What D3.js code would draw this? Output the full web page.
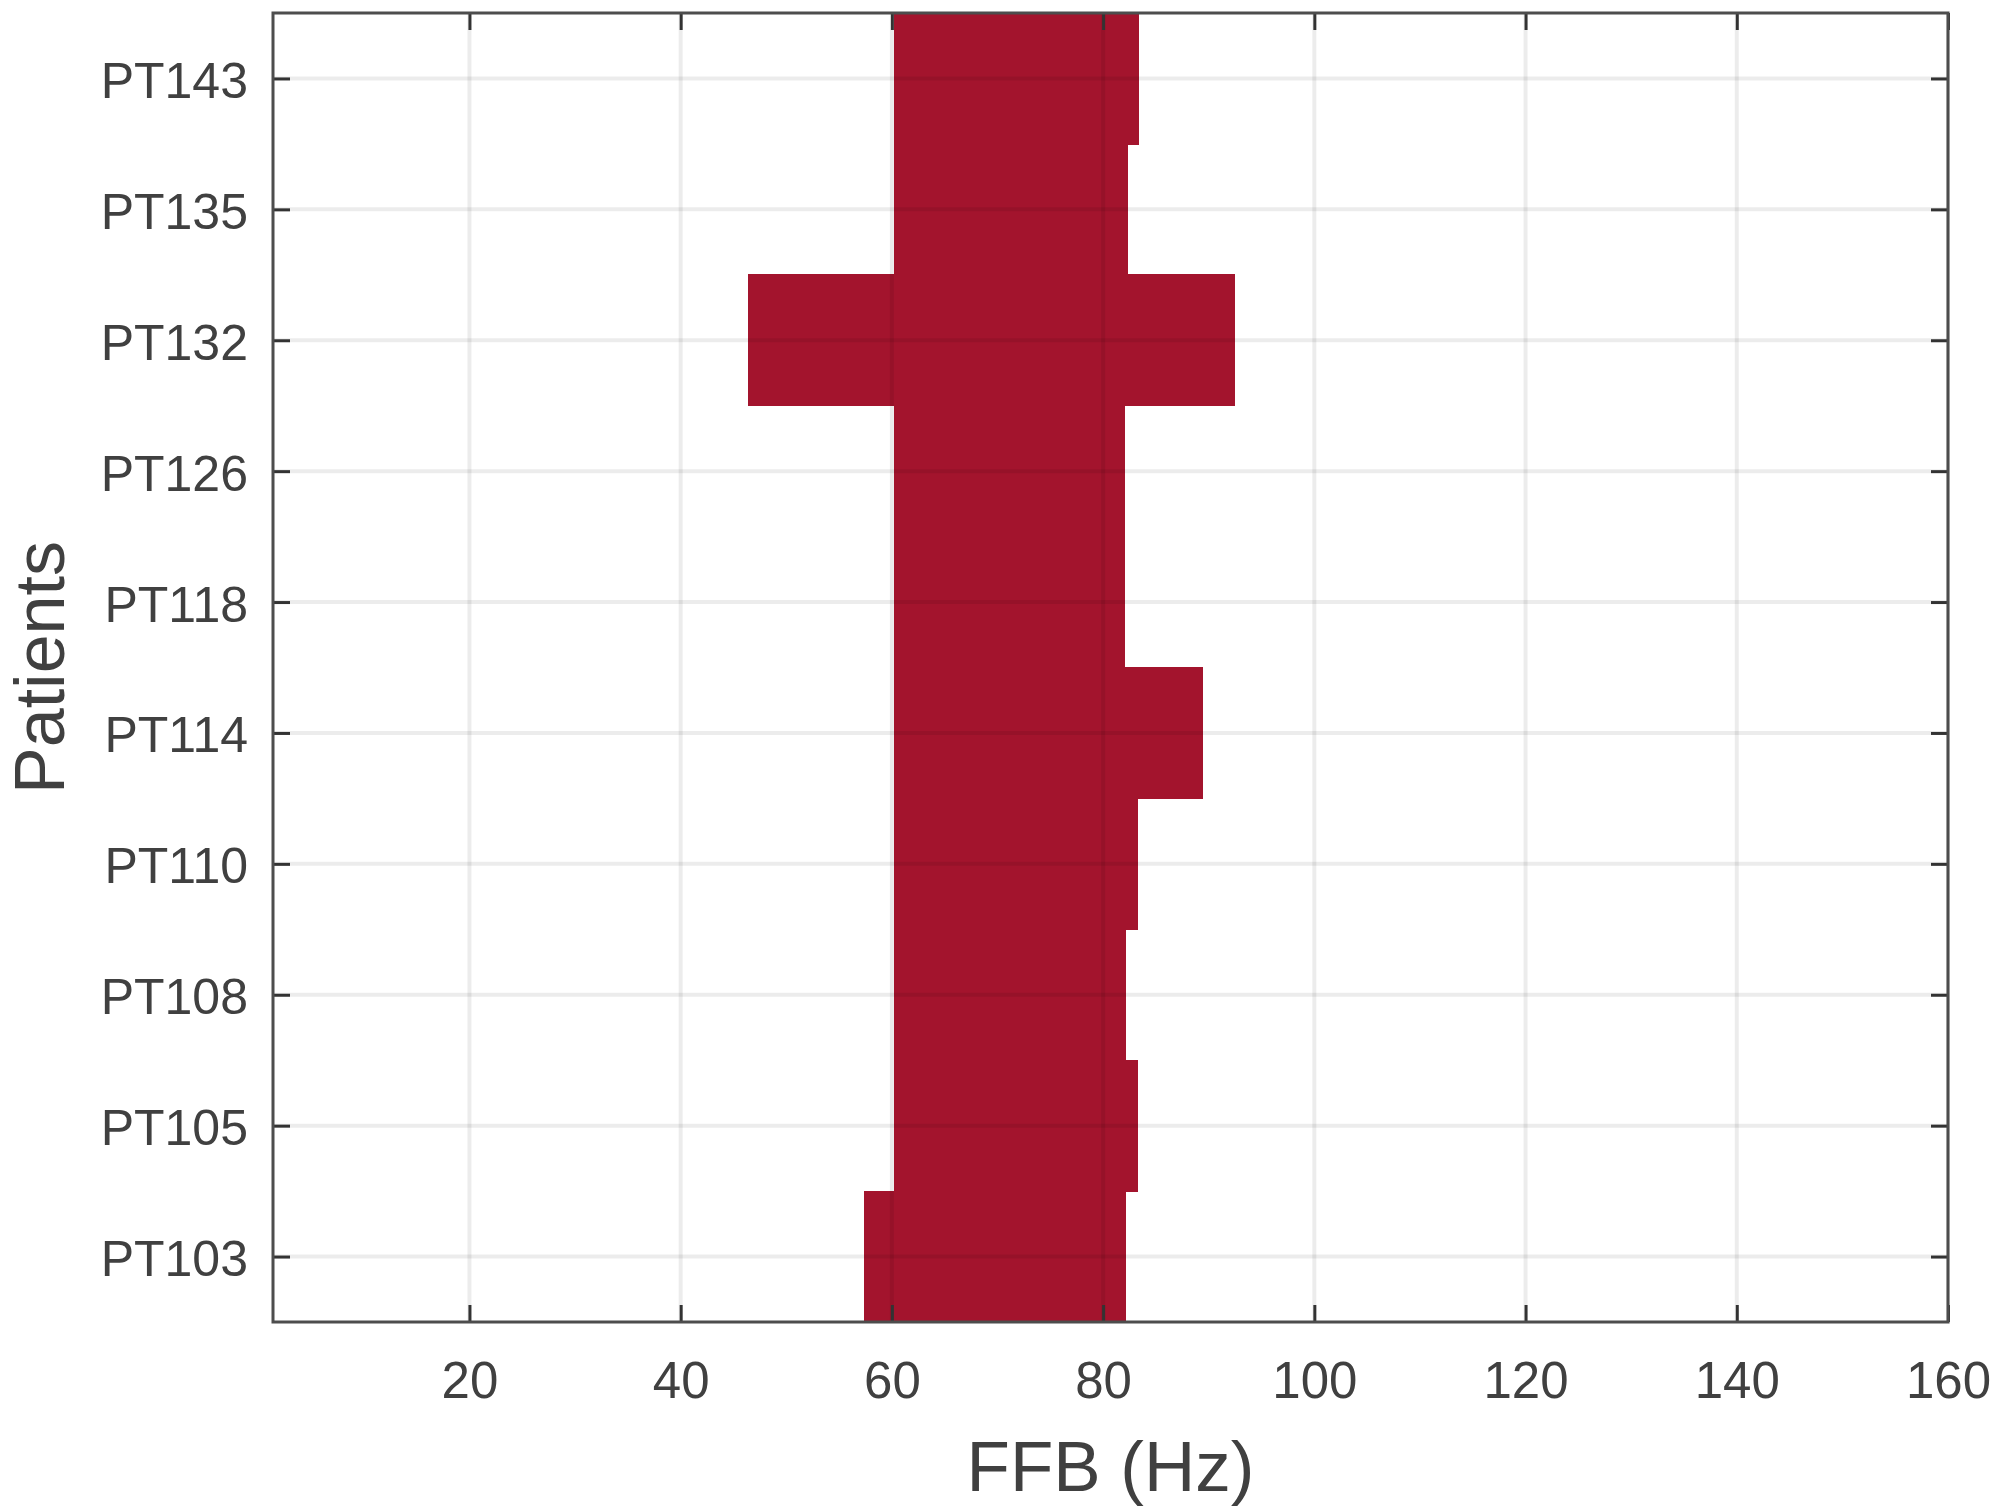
<!DOCTYPE html>
<html>
<head>
<meta charset="utf-8">
<script src="https://cdn.jsdelivr.net/npm/d3@7"></script>
<style>
body { margin: 0; background: #fff; }
text { font-family: "Liberation Sans", Arial, sans-serif; }
</style>
</head>
<body>
<div id="chart"></div>
<script>
// patients listed bottom to top, as in the figure
var patients = ["PT103", "PT105", "PT108", "PT110", "PT114", "PT118", "PT126", "PT132", "PT135", "PT143"];
var ffbLow  = [57.4, 60.2, 60.2, 60.2, 60.2, 60.2, 60.2, 46.4, 60.2, 60.2];
var ffbHigh = [82.2, 83.3, 82.2, 83.3, 89.5, 82.1, 82.1, 92.5, 82.4, 83.4];
var xTicks = [20, 40, 60, 80, 100, 120, 140, 160];
var xRange = [1.4, 160];

var data = patients.map(function(p, i) {
    return {patient: p, low: ffbLow[i], high: ffbHigh[i]};
});

var w = 1995;
var h = 1509;
var plot = {left: 273, right: 1948, top: 13, bottom: 1322};
var tickLen = 17;
var ink = "#404040";

var x = d3.scaleLinear()
    .domain(xRange)
    .range([plot.left, plot.right]);

var y = d3.scaleBand()
    .domain(patients.slice().reverse())
    .range([plot.top, plot.bottom])
    .paddingInner(0)
    .paddingOuter(0);

var svg = d3.select("#chart")
    .append("svg")
    .attr("width", w)
    .attr("height", h);

svg.append("rect")
    .attr("width", w)
    .attr("height", h)
    .attr("fill", "#fff");

// bars: each patient spans its low..high band
svg.append("g")
    .attr("shape-rendering", "crispEdges")
    .selectAll("rect")
    .data(data)
    .enter()
    .append("rect")
    .attr("x", function(d) { return x(d.low); })
    .attr("y", function(d) { return Math.floor(y(d.patient)); })
    .attr("width", function(d) { return x(d.high) - x(d.low); })
    .attr("height", Math.ceil(y.bandwidth()) + 1)
    .attr("fill", "#a3142d");

// grid lines sit on top, faint, so they show through the bars
var grid = svg.append("g")
    .attr("stroke", "#000")
    .attr("stroke-opacity", 0.075)
    .attr("stroke-width", 4);

grid.selectAll(".vgrid")
    .data(xTicks)
    .enter()
    .append("line")
    .attr("x1", function(d) { return x(d); })
    .attr("x2", function(d) { return x(d); })
    .attr("y1", plot.top)
    .attr("y2", plot.bottom);

grid.selectAll(".hgrid")
    .data(patients)
    .enter()
    .append("line")
    .attr("x1", plot.left)
    .attr("x2", plot.right)
    .attr("y1", function(d) { return y(d) + y.bandwidth() / 2; })
    .attr("y2", function(d) { return y(d) + y.bandwidth() / 2; });

var yc = d3.scalePoint()
    .domain(patients.slice().reverse())
    .range([plot.top + y.bandwidth() / 2, plot.bottom - y.bandwidth() / 2]);

var xAxis = d3.axisBottom(x)
    .tickValues(xTicks)
    .tickSize(-tickLen)
    .tickPadding(40)
    .tickSizeOuter(0);

var xTop = d3.axisTop(x)
    .tickValues(xTicks)
    .tickSize(-tickLen)
    .tickFormat("")
    .tickSizeOuter(0);

var yAxis = d3.axisLeft(yc)
    .tickSize(-tickLen)
    .tickPadding(25)
    .tickSizeOuter(0);

var yRight = d3.axisRight(yc)
    .tickSize(-tickLen)
    .tickFormat("")
    .tickSizeOuter(0);

function styleAxis(g) {
    g.select(".domain").remove();
    g.selectAll(".tick line")
        .attr("stroke", "#333")
        .attr("stroke-width", 3);
    g.selectAll(".tick text")
        .attr("fill", ink)
        .style("font-family", "'Liberation Sans', Arial, sans-serif");
}

svg.append("g")
    .attr("transform", "translate(0," + plot.bottom + ")")
    .call(xAxis)
    .call(styleAxis)
    .selectAll(".tick text")
    .attr("font-size", 51)
    .attr("dy", "0.71em");

svg.append("g")
    .attr("transform", "translate(0," + plot.top + ")")
    .call(xTop)
    .call(styleAxis);

svg.append("g")
    .attr("transform", "translate(" + plot.left + ",0)")
    .call(yAxis)
    .call(styleAxis)
    .selectAll(".tick text")
    .attr("font-size", 50)
    .attr("dy", "0.38em");

svg.append("g")
    .attr("transform", "translate(" + plot.right + ",0)")
    .call(yRight)
    .call(styleAxis);

// axes box
svg.append("rect")
    .attr("x", plot.left)
    .attr("y", plot.top)
    .attr("width", plot.right - plot.left)
    .attr("height", plot.bottom - plot.top)
    .attr("fill", "none")
    .attr("stroke", "#4d4d4d")
    .attr("stroke-width", 3);

var labels = svg.append("g")
    .attr("fill", ink);

labels.append("text")
    .text("FFB (Hz)")
    .attr("text-anchor", "middle")
    .attr("font-size", 71)
    .attr("x", (plot.left + plot.right) / 2)
    .attr("y", 1491);

labels.append("text")
    .text("Patients")
    .attr("text-anchor", "middle")
    .attr("font-size", 70)
    .attr("transform", "translate(64," + ((plot.top + plot.bottom) / 2) + ") rotate(-90)");
</script>
</body>
</html>
